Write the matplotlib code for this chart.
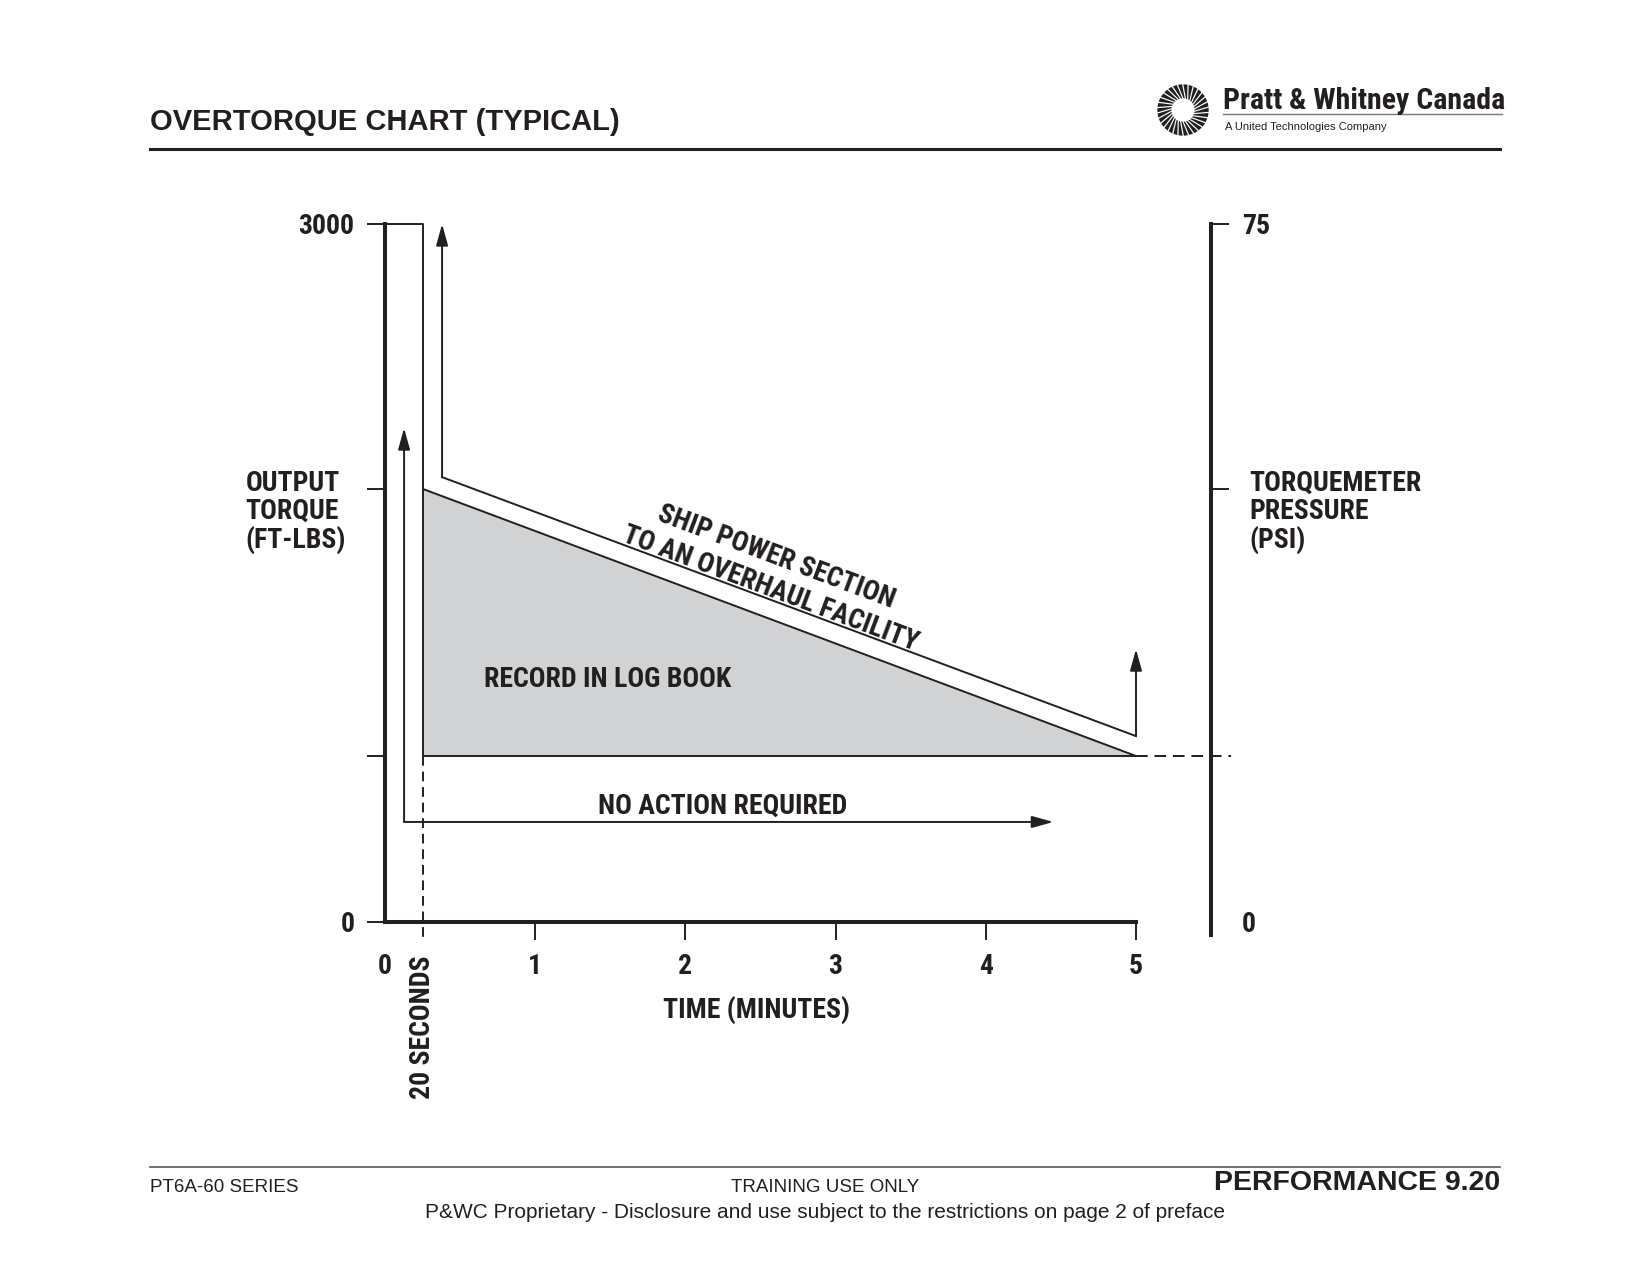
import matplotlib
matplotlib.use("Agg")
import matplotlib.pyplot as plt
import numpy as np
from matplotlib.lines import Line2D

W, H = 1650, 1275

# axis ticks
time_ticks = [0, 1, 2, 3, 4, 5]
time_labels = ["0", "1", "2", "3", "4", "5"]
torque_ticks = [0, 713, 1861, 3000]
torque_labels = ["0", "", "", "3000"]
psi_ticks = [0, 46.5, 75]
psi_labels = ["0", "", "75"]

# chart regions (time in minutes, torque in ft-lbs)
twenty_sec = 0.25
record_x = [0.25, 0.25, 5.0]
record_y = [1861, 713, 713]
ship_x = [0.38, 5.0]
ship_y = [1912, 799]
ship_arrow_top = [3000, 1173]
noact_x = [0.127, 4.45]
noact_y = [430, 2123]
psi_axis_x = 5.5

ink = "#231f20"
grey = "#d1d2d4"
narrow = ["Roboto Condensed", "Archivo Narrow", "Barlow Semi Condensed", "DejaVu Sans"]
sans = ["Liberation Sans", "DejaVu Sans"]

plt.rcParams["font.family"] = narrow
plt.rcParams["font.weight"] = "bold"


def fx(x):
    return x / W


def fy(y):
    return 1 - y / H


fig = plt.figure(figsize=(16.5, 12.75), dpi=100)
ax = fig.add_axes([fx(385), fy(922), (1136 - 385) / W, (922 - 224) / H])
ax.set_xlim(0, 5)
ax.set_ylim(0, 3000)
ax.patch.set_visible(False)
for s in ["top", "right"]:
    ax.spines[s].set_visible(False)
for s in ["left", "bottom"]:
    ax.spines[s].set_linewidth(2.9)
    ax.spines[s].set_color(ink)

ax.set_xticks(time_ticks, time_labels)
ax.set_yticks(torque_ticks, torque_labels)
ax.tick_params(direction="out", length=13, width=1.4, pad=9, labelsize=20, colors=ink)
ax.xaxis.get_major_ticks()[0].tick1line.set_visible(False)
ax.yaxis.get_major_ticks()[0].tick1line.set_visible(False)

# right hand pressure scale
ax2 = ax.twinx()
ax2.set_ylim(0, 75)
for s in ["top", "left", "bottom"]:
    ax2.spines[s].set_visible(False)
ax2.spines["right"].set_position(("data", psi_axis_x))
ax2.spines["right"].set_linewidth(2.9)
ax2.spines["right"].set_color(ink)
ax2.spines["right"].set_bounds(-1.4, 75)
ax2.set_yticks(psi_ticks, psi_labels)
ax2.tick_params(direction="out", length=13, width=1.4, pad=9, labelsize=20, colors=ink)
ax2.yaxis.get_major_ticks()[0].tick2line.set_visible(False)

lw = 1.4
# record in log book zone
ax.fill(record_x, record_y, facecolor=grey, edgecolor=ink, lw=lw, clip_on=False, zorder=2)
ax.plot([0, twenty_sec, twenty_sec], [3000, 3000, record_y[0]], color=ink, lw=lw, clip_on=False)
ax.plot([twenty_sec, twenty_sec], [record_y[1], -77], color=ink, lw=lw, ls=(0, (5, 3)), clip_on=False)
ax.plot([record_x[2], 5.63], [record_y[2], record_y[2]], color=ink, lw=lw, ls=(0, (6, 3.5)), clip_on=False)


def arrow(x0, y0, x1, y1):
    ax.annotate("", xy=(x1, y1), xytext=(x0, y0), annotation_clip=False,
                arrowprops=dict(arrowstyle="-|>,head_length=1.3,head_width=0.36",
                                color=ink, lw=lw, shrinkA=0, shrinkB=0))


# ship power section boundary
arrow(ship_x[0], ship_y[0], ship_x[0], ship_arrow_top[0])
ax.plot(ship_x, ship_y, color=ink, lw=lw, clip_on=False)
arrow(ship_x[1], ship_y[1], ship_x[1], ship_arrow_top[1])

# no action required
arrow(noact_x[0], noact_y[0], noact_x[0], noact_y[1])
arrow(noact_x[0], noact_y[0], noact_x[1], noact_y[0])

fs = 20
ax.text(1.485, 1044, "RECORD IN LOG BOOK", ha="center", va="center", fontsize=fs, color=ink)
ax.text(2.25, 498, "NO ACTION REQUIRED", ha="center", va="center", fontsize=fs, color=ink)
ax.text(2.59, 1540, "SHIP POWER SECTION", ha="center", va="baseline", rotation=-20.5,
        rotation_mode="anchor", fontsize=fs, color=ink)
ax.text(2.549, 1403, "TO AN OVERHAUL FACILITY", ha="center", va="baseline", rotation=-20.5,
        rotation_mode="anchor", fontsize=fs, color=ink)
ax.text(twenty_sec, -142, "20 SECONDS", ha="center", va="top", rotation=90, fontsize=fs, color=ink)
ax.text(2.477, -378, "TIME (MINUTES)", ha="center", va="center", fontsize=fs, color=ink)
ax.text(-0.186, 0.6476, "OUTPUT\nTORQUE\n(FT-LBS)", transform=ax.transAxes, ha="left", va="top",
        fontsize=fs, color=ink, linespacing=1.05)
ax.text(1.1505, 0.6476, "TORQUEMETER\nPRESSURE\n(PSI)", transform=ax.transAxes, ha="left", va="top",
        fontsize=fs, color=ink, linespacing=1.05)

# page header
fig.text(fx(150), fy(122), "OVERTORQUE CHART (TYPICAL)", ha="left", va="center",
         fontsize=21, family=sans, weight="bold", color=ink)
fig.add_artist(Line2D([fx(150), fx(1500)], [fy(149), fy(149)], color=ink, lw=2.2))

# logo
lax = fig.add_axes([fx(1156), fy(137), 54 / W, 54 / H])
lax.set_xlim(-1.05, 1.05)
lax.set_ylim(-1.05, 1.05)
lax.set_aspect("equal")
lax.axis("off")
n_rays = 30
for k in range(n_rays):
    th = 2 * np.pi * k / n_rays
    a = [th - 0.05, th + 0.05, th + 0.30, th + 0.14]
    r = [0.45, 0.45, 1.0, 1.0]
    lax.fill([ri * np.cos(ai) for ri, ai in zip(r, a)],
             [ri * np.sin(ai) for ri, ai in zip(r, a)], color=ink, lw=0)
fig.text(fx(1223), fy(109), "Pratt & Whitney Canada", ha="left", va="baseline",
         fontsize=21.5, color=ink)
fig.add_artist(Line2D([fx(1223), fx(1502)], [fy(114), fy(114)], color="#777777", lw=1))
fig.text(fx(1225), fy(127), "A United Technologies Company", ha="left", va="center",
         fontsize=8, family=sans, weight="normal", color=ink)

# page footer
fig.add_artist(Line2D([fx(150), fx(1500)], [fy(1167), fy(1167)], color="#555555", lw=1.2))
fig.text(fx(150), fy(1187), "PT6A-60 SERIES", ha="left", va="center",
         fontsize=13.5, family=sans, weight="normal", color=ink)
fig.text(fx(825), fy(1187), "TRAINING USE ONLY", ha="center", va="center",
         fontsize=13.5, family=sans, weight="normal", color=ink)
fig.text(fx(1500), fy(1183), "PERFORMANCE 9.20", ha="right", va="center",
         fontsize=20.5, family=sans, weight="bold", color=ink)
fig.text(fx(825), fy(1212), "P&WC Proprietary - Disclosure and use subject to the restrictions on page 2 of preface",
         ha="center", va="center", fontsize=15, family=sans, weight="normal", color=ink)

fig.savefig("out.png", dpi=100)
